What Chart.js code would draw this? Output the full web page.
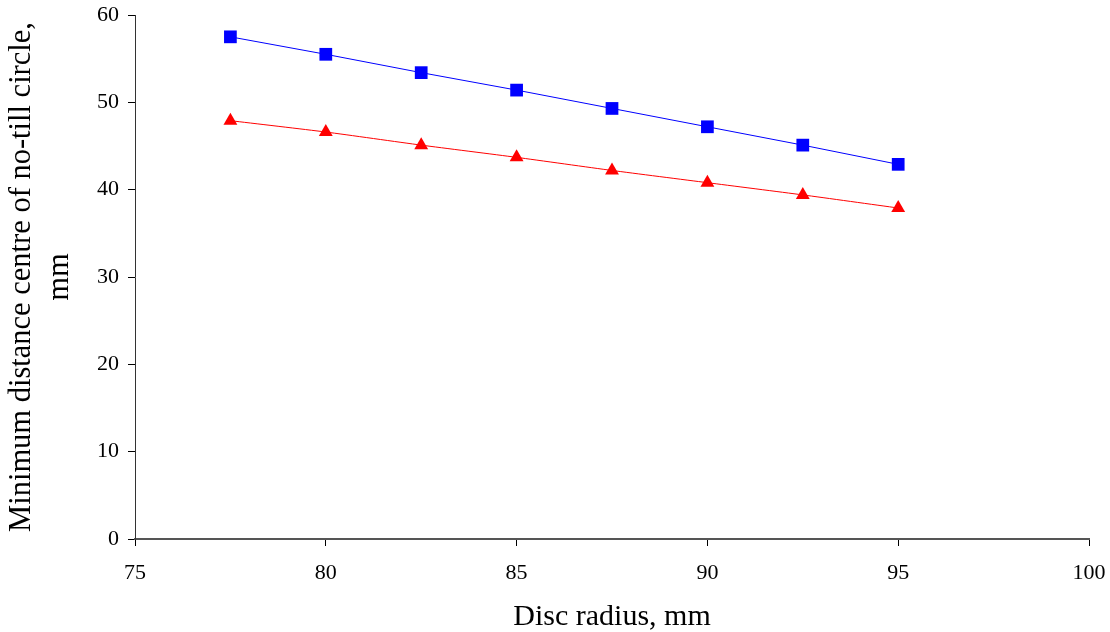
<!DOCTYPE html>
<html>
<head>
<meta charset="utf-8">
<script src="https://cdn.jsdelivr.net/npm/chart.js@4/dist/chart.umd.min.js"></script>
<style>
  html, body { margin: 0; padding: 0; background: #fff; }
  #wrap { width: 1110px; height: 632px; }
</style>
</head>
<body>
<div id="wrap"><canvas id="discChart"></canvas></div>
<script>
// disc radius values (x) and the two measured series
const discRadius = [77.5, 80, 82.5, 85, 87.5, 90, 92.5, 95];
const seriesSquare = [57.5, 55.5, 53.4, 51.4, 49.3, 47.2, 45.1, 42.9];
const seriesTriangle = [47.9, 46.6, 45.1, 43.7, 42.2, 40.8, 39.4, 37.9];

const xTitle = 'Disc radius, mm';
const yTitle = ['Minimum distance centre of no-till circle,', 'mm'];

const toPoints = (xs, ys) => xs.map((x, i) => ({x: x, y: ys[i]}));

// keep the plot box where the original sits, labels may overhang
const noScalePadding = (scale) => {
    scale.paddingTop = 0;
    scale.paddingBottom = 0;
    scale.paddingLeft = 0;
    scale.paddingRight = 0;
};

const ctx = document.getElementById('discChart');

new Chart(ctx, {
    type: 'line',
    data: {
        datasets: [{
            data: toPoints(discRadius, seriesSquare),
            borderColor: '#0000ff',
            backgroundColor: '#0000ff',
            borderWidth: 1,
            pointStyle: 'rect',
            pointRadius: 9,
            pointBorderWidth: 0,
            tension: 0
        }, {
            data: toPoints(discRadius, seriesTriangle),
            borderColor: '#ff0000',
            backgroundColor: '#ff0000',
            borderWidth: 1,
            pointStyle: 'triangle',
            pointRadius: 8,
            pointBorderWidth: 0,
            tension: 0.2
        }]
    },
    options: {
        responsive: true,
        maintainAspectRatio: false,
        animation: false,
        layout: { autoPadding: false, padding: { top: 15, right: 21, left: 0, bottom: 0 } },
        plugins: {
            legend: { display: false },
            tooltip: { enabled: false }
        },
        scales: {
            x: {
                type: 'linear',
                min: 75,
                max: 100,
                ticks: {
                    stepSize: 5,
                    color: '#000',
                    padding: 14,
                    font: { family: 'Liberation Serif', size: 22 }
                },
                grid: {
                    drawOnChartArea: false,
                    tickLength: 7,
                    color: '#000'
                },
                border: { color: '#555', width: 2 },
                title: {
                    display: true,
                    text: xTitle,
                    color: '#000',
                    padding: { top: 6, bottom: 0 },
                    font: { family: 'Liberation Serif', size: 30, lineHeight: 1.0 }
                },
                afterFit: (scale) => { scale.height = 93; noScalePadding(scale); }
            },
            y: {
                min: 0,
                max: 60,
                ticks: {
                    stepSize: 10,
                    color: '#000',
                    padding: 9,
                    font: { family: 'Liberation Serif', size: 22 }
                },
                grid: {
                    drawOnChartArea: false,
                    tickLength: 7,
                    color: '#000'
                },
                border: { color: '#333', width: 1 },
                title: {
                    display: true,
                    text: yTitle,
                    color: '#000',
                    padding: { top: 3, bottom: 6 },
                    font: { family: 'Liberation Serif', size: 30.5, lineHeight: 1.25 }
                },
                afterFit: (scale) => { scale.width = 135; noScalePadding(scale); }
            }
        }
    }
});
</script>
</body>
</html>
